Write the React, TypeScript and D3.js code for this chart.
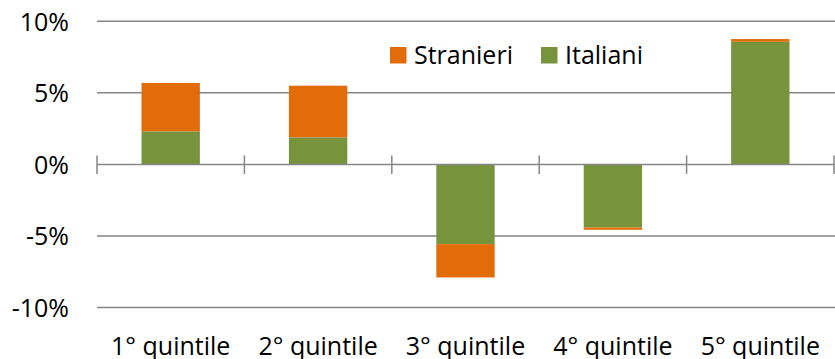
import React from "react";
import * as d3 from "d3";

const categories = ["1° quintile", "2° quintile", "3° quintile", "4° quintile", "5° quintile"];
const italiani = [2.31, 1.89, -5.57, -4.41, 8.57];
const stranieri = [3.38, 3.61, -2.33, -0.16, 0.19];
const yTicks = [-10, -5, 0, 5, 10];
const seriesNames = ["Stranieri", "Italiani"];

const W = 835;
const H = 359;
const ORANGE = "#E36C0A";
const GREEN = "#77933C";
const GRID = "#868686";
const FONT = "'Open Sans', sans-serif";

export default function App() {
  const x = d3.scaleBand<string>().domain(categories).range([97, 834]).padding(0);
  const y = d3.scaleLinear().domain([-10, 10]).range([307.5, 21.3]);
  const barFrac = 0.396;
  const bw = x.step() * barFrac;

  const fmt = (v: number) => `${v}%`;

  return (
    <svg
      width={W}
      height={H}
      style={{ position: "absolute", left: 0, top: 0, background: "#fff" }}
      fontFamily={FONT}
    >
      {yTicks.filter((t) => t !== 0).map((t) => (
        <line key={t} x1={97} x2={835} y1={y(t)} y2={y(t)} stroke={GRID} strokeWidth={1.5} />
      ))}
      {yTicks.map((t) => (
        <text
          key={"l" + t}
          x={69}
          y={y(t) + 9.3}
          textAnchor="end"
          fontSize={25}
          fill="#000"
        >
          {fmt(t)}
        </text>
      ))}
      {categories.map((c, i) => {
        const cx = (x(c) as number) + x.bandwidth() / 2;
        const g = italiani[i];
        const s = stranieri[i];
        const gTop = Math.min(y(0), y(g));
        const gH = Math.abs(y(g) - y(0));
        const sTop = Math.min(y(g), y(g + s));
        const sH = Math.abs(y(g + s) - y(g));
        return (
          <g key={c}>
            <rect x={cx - bw / 2} y={gTop} width={bw} height={gH} fill={GREEN} />
            <rect x={cx - bw / 2} y={sTop} width={bw} height={sH} fill={ORANGE} />
          </g>
        );
      })}
      <line x1={97} x2={835} y1={y(0)} y2={y(0)} stroke={GRID} strokeWidth={1.5} />
      {[...categories.map((c) => x(c) as number), 834].map((tx, i) => (
        <line key={"t" + i} x1={tx} x2={tx} y1={y(0) - 9} y2={y(0) + 9.5} stroke={GRID} strokeWidth={1.5} />
      ))}
      {categories.map((c) => (
        <text
          key={"x" + c}
          x={(x(c) as number) + x.bandwidth() / 2}
          y={355}
          textAnchor="middle"
          fontSize={25}
          fill="#000"
        >
          {c}
        </text>
      ))}
      <g>
        <rect x={390} y={47} width={16.5} height={16.5} fill={ORANGE} />
        <text x={414} y={64} fontSize={25} fill="#000">{seriesNames[0]}</text>
        <rect x={541} y={47} width={16.5} height={16.5} fill={GREEN} />
        <text x={565} y={64} fontSize={25} fill="#000">{seriesNames[1]}</text>
      </g>
    </svg>
  );
}
